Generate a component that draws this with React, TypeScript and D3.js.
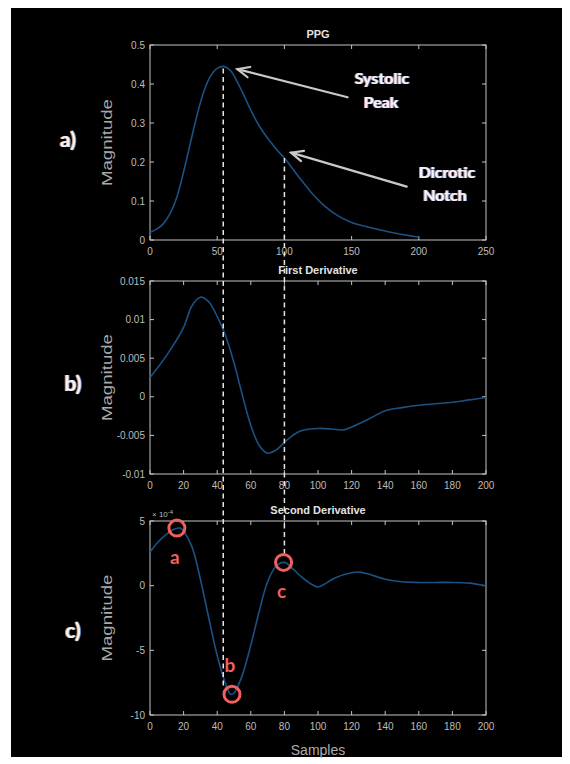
import React from 'react';
import * as d3 from 'd3';

// ---------- data ----------
const ppgSamples = [0, 5, 10, 15, 20, 25, 30, 35, 40, 45, 50, 55, 60, 65, 70, 75, 80, 85, 90, 95, 100, 105, 110, 120, 130, 140, 150, 160, 170, 180, 190, 200];
const ppgValues = [0.02, 0.028, 0.042, 0.068, 0.11, 0.175, 0.248, 0.32, 0.38, 0.42, 0.44, 0.445, 0.434, 0.405, 0.37, 0.333, 0.3, 0.273, 0.25, 0.229, 0.21, 0.188, 0.165, 0.122, 0.087, 0.062, 0.045, 0.035, 0.027, 0.019, 0.013, 0.007];

const d1Samples = [0, 10, 20, 25, 30, 35, 40, 45, 50, 55, 60, 65, 70, 75, 80, 85, 90, 100, 110, 115, 120, 130, 140, 150, 160, 170, 180, 190, 200];
const d1Values = [0.0025, 0.0054, 0.009, 0.0118, 0.0129, 0.0123, 0.0104, 0.0079, 0.0044, 0.0002, -0.0037, -0.0063, -0.0073, -0.0069, -0.0059, -0.005, -0.0044, -0.0041, -0.0042, -0.0043, -0.0039, -0.0029, -0.0018, -0.0014, -0.0011, -0.0009, -0.0007, -0.0004, -0.0001];

// second derivative, in units of 1e-4
const d2Samples = [0, 5, 10, 15, 18, 20, 25, 30, 35, 40, 45, 48, 50, 55, 60, 65, 70, 75, 80, 85, 90, 95, 100, 105, 110, 120, 125, 130, 140, 150, 160, 170, 180, 190, 200];
const d2Values = [2.6, 3.4, 4.0, 4.4, 4.45, 4.2, 3.0, 0.5, -2.5, -5.4, -7.6, -8.4, -8.3, -6.9, -4.6, -2.0, 0.3, 1.5, 1.8, 1.3, 0.7, 0.2, -0.1, 0.2, 0.6, 1.0, 1.05, 0.9, 0.5, 0.3, 0.25, 0.25, 0.25, 0.2, 0.0];

const aXTicks = [0, 50, 100, 150, 200, 250];
const aYTicks = [0, 0.1, 0.2, 0.3, 0.4, 0.5];
const aYLabels = ['0', '0.1', '0.2', '0.3', '0.4', '0.5'];
const bXTicks = [0, 20, 40, 60, 80, 100, 120, 140, 160, 180, 200];
const bYTicks = [-0.01, -0.005, 0, 0.005, 0.01, 0.015];
const bYLabels = ['-0.01', '-0.005', '0', '0.005', '0.01', '0.015'];
const cYTicks = [-10, -5, 0, 5];
const cYLabels = ['-10', '-5', '0', '5'];

const titles = ['PPG', 'First Derivative', 'Second Derivative'];

// feature points
const peakSample = 54.5;
const peakValue = 0.445;
const notchSample = 100;
const notchValue = 0.21;
const pointLabels = ['a', 'b', 'c'];
const pointSamples = [16, 48.8, 79.5];
const pointValues = [4.45, -8.4, 1.8];

// ---------- layout ----------
const W = 570;
const H = 764;
const L = 150;
const R = 486;
const panels = [
  { top: 45, bottom: 240 },
  { top: 281, bottom: 474 },
  { top: 521, bottom: 715 },
];

const xA = d3.scaleLinear().domain([0, 250]).range([L, R]);
const yA = d3.scaleLinear().domain([0, 0.5]).range([panels[0].bottom, panels[0].top]);
const xB = d3.scaleLinear().domain([0, 200]).range([L, R]);
const yB = d3.scaleLinear().domain([-0.01, 0.015]).range([panels[1].bottom, panels[1].top]);
const xC = d3.scaleLinear().domain([0, 200]).range([L, R]);
const yC = d3.scaleLinear().domain([-10, 5]).range([panels[2].bottom, panels[2].top]);

const LINE = '#1b5183';
const AX = '#c4c4c4';
const TXT = '#bdbdbd';
const RED = '#f25f5f';
const FONT = '"Liberation Sans", Arial, sans-serif';
const CAL = 'Lato, "Open Sans", sans-serif';

function linePath(xs: number[], ys: number[], x: d3.ScaleLinear<number, number>, y: d3.ScaleLinear<number, number>) {
  const gen = d3
    .line<number>()
    .x((_, i) => x(xs[i]))
    .y((d) => y(d))
    .curve(d3.curveCatmullRom.alpha(0.5));
  return gen(ys) || '';
}

function Fringe({ x, y, text, size, filter }: any) {
  return (
    <text x={x} y={y} fontFamily={CAL} fontWeight={700} fontSize={size} textAnchor="middle" fill="#f5f2f2" filter={`url(#${filter})`}>
      {text}
    </text>
  );
}

function Axes({ p, x, y, xTicks, yTicks, yLabels, title }: any) {
  const { top, bottom } = panels[p];
  const tl = 4;
  return (
    <g>
      <rect x={L} y={top} width={R - L} height={bottom - top} fill="none" stroke={AX} strokeWidth={1} />
      {xTicks.map((t: number) => (
        <g key={'x' + t}>
          <line x1={x(t)} x2={x(t)} y1={bottom} y2={bottom - tl} stroke={AX} />
          <line x1={x(t)} x2={x(t)} y1={top} y2={top + tl} stroke={AX} />
          <text x={x(t)} y={bottom + 15} fill={TXT} fontSize={10} fontFamily={FONT} textAnchor="middle">
            {t}
          </text>
        </g>
      ))}
      {yTicks.map((t: number, i: number) => (
        <g key={'y' + t}>
          <line x1={L} x2={L + tl} y1={y(t)} y2={y(t)} stroke={AX} />
          <line x1={R} x2={R - tl} y1={y(t)} y2={y(t)} stroke={AX} />
          <text x={L - 5} y={y(t) + 3.5} fill={TXT} fontSize={10} fontFamily={FONT} textAnchor="end">
            {yLabels[i]}
          </text>
        </g>
      ))}
      <text x={(L + R) / 2} y={top - 7} fill="#e2e2e2" fontSize={11} fontWeight={700} fontFamily={FONT} textAnchor="middle">
        {title}
      </text>
      <text
        transform={`translate(112,${(top + bottom) / 2}) rotate(-90)`}
        fill="#a9a9a9"
        fontSize={15}
        fontFamily={FONT}
        textAnchor="middle"
        textLength={87}
        lengthAdjust="spacingAndGlyphs"
      >
        Magnitude
      </text>
    </g>
  );
}

function Arrow({ x1, y1, x2, y2 }: any) {
  const ang = Math.atan2(y2 - y1, x2 - x1);
  const len = 13;
  const spread = 0.42;
  const ax = x2 - len * Math.cos(ang - spread);
  const ay = y2 - len * Math.sin(ang - spread);
  const bx = x2 - len * Math.cos(ang + spread);
  const by = y2 - len * Math.sin(ang + spread);
  return (
    <g stroke="#c9c9c9" strokeWidth={2.2} fill="none" strokeLinecap="round">
      <line x1={x1} y1={y1} x2={x2} y2={y2} />
      <polyline points={`${ax},${ay} ${x2},${y2} ${bx},${by}`} />
    </g>
  );
}

function FringeFilter({ id, left, right }: any) {
  return (
    <filter id={id} x="-20%" y="-20%" width="140%" height="140%">
      <feOffset in="SourceAlpha" dx={-1.2} dy={0} result="offL" />
      <feFlood floodColor={left} floodOpacity={0.85} result="colL" />
      <feComposite in="colL" in2="offL" operator="in" result="fl" />
      <feOffset in="SourceAlpha" dx={1.2} dy={0} result="offR" />
      <feFlood floodColor={right} floodOpacity={0.85} result="colR" />
      <feComposite in="colR" in2="offR" operator="in" result="fr" />
      <feMerge>
        <feMergeNode in="fl" />
        <feMergeNode in="fr" />
        <feMergeNode in="SourceGraphic" />
      </feMerge>
    </filter>
  );
}

export default function App() {
  const ppgPath = linePath(ppgSamples, ppgValues, xA, yA);
  const d1Path = linePath(d1Samples, d1Values, xB, yB);
  const d2Path = linePath(d2Samples, d2Values, xC, yC);

  const peakX = xA(peakSample);
  const notchX = xA(notchSample);

  return (
    <svg width={W} height={H} style={{ position: 'absolute', left: 0, top: 0, background: '#fff' }}>
      <defs>
        <FringeFilter id="fringeAnn" left="#e6a0c0" right="#8fb0e6" />
        <FringeFilter id="fringePanel" left="#e89a5a" right="#6aa2e0" />
      </defs>
      <rect x={11} y={8} width={551} height={749} fill="#000" />

      <Axes p={0} x={xA} y={yA} xTicks={aXTicks} yTicks={aYTicks} yLabels={aYLabels} title={titles[0]} />
      <Axes p={1} x={xB} y={yB} xTicks={bXTicks} yTicks={bYTicks} yLabels={bYLabels} title={titles[1]} />
      <Axes p={2} x={xC} y={yC} xTicks={bXTicks} yTicks={cYTicks} yLabels={cYLabels} title={titles[2]} />

      <text x={152} y={517} fill={TXT} fontSize={8} fontFamily={FONT}>
        × 10<tspan dy={-3} fontSize={6}>-4</tspan>
      </text>

      <path d={ppgPath} fill="none" stroke={LINE} strokeWidth={1.6} />
      <path d={d1Path} fill="none" stroke={LINE} strokeWidth={1.6} />
      <path d={d2Path} fill="none" stroke={LINE} strokeWidth={1.6} />

      {/* dashed guide lines */}
      <line x1={peakX} x2={peakX} y1={yA(peakValue) + 2} y2={yC(-7.9)} stroke="#e6e6e6" strokeWidth={1.5} strokeDasharray="5,3.5" />
      <line x1={notchX} x2={notchX} y1={yA(notchValue)} y2={yC(2.5)} stroke="#e6e6e6" strokeWidth={1.5} strokeDasharray="5,3.5" />

      {/* arrows */}
      <Arrow x1={xA(147)} y1={yA(0.366)} x2={xA(65)} y2={yA(0.438)} />
      <Arrow x1={xA(191)} y1={yA(0.137)} x2={xA(105)} y2={yA(0.224)} />

      <Fringe x={382} y={84} text="Systolic" size={16} filter="fringeAnn" />
      <Fringe x={381} y={108} text="Peak" size={16} filter="fringeAnn" />
      <Fringe x={447} y={178} text="Dicrotic" size={16} filter="fringeAnn" />
      <Fringe x={445} y={201} text="Notch" size={16} filter="fringeAnn" />

      <Fringe x={68} y={147} text="a)" size={21} filter="fringePanel" />
      <Fringe x={73} y={391} text="b)" size={21} filter="fringePanel" />
      <Fringe x={73} y={638} text="c)" size={21} filter="fringePanel" />

      {/* feature points on second derivative */}
      {pointLabels.map((lab, i) => {
        const cx = xC(pointSamples[i]);
        const cy = yC(pointValues[i]);
        const ly = lab === 'b' ? cy - 22 : cy + 36;
        return (
          <g key={lab}>
            <circle cx={cx} cy={cy} r={8} fill="none" stroke={RED} strokeWidth={3} />
            <text x={cx - 2} y={ly} fill={RED} fontSize={19} fontWeight={700} fontFamily={CAL} textAnchor="middle">
              {lab}
            </text>
          </g>
        );
      })}

      <text x={(L + R) / 2} y={755} fill="#adadad" fontSize={14} fontFamily={FONT} textAnchor="middle">
        Samples
      </text>
    </svg>
  );
}
